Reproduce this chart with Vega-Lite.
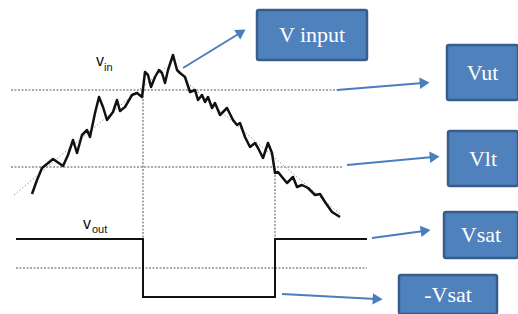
{
  "$schema": "https://vega.github.io/schema/vega-lite/v6.json",
  "width": 518, "height": 314,
  "autosize": {"type": "fit", "contains": "padding"},
  "padding": 0,
  "background": "white",
  "config": {"view": {"stroke": null}},
  "datasets": {
    "dotted": [
      {"x": 11, "y": 90, "x2": 340, "y2": 90},
      {"x": 11, "y": 167, "x2": 342, "y2": 167},
      {"x": 16, "y": 268, "x2": 367, "y2": 268},
      {"x": 143, "y": 92, "x2": 143, "y2": 239},
      {"x": 275, "y": 168, "x2": 275, "y2": 239}
    ],
    "trend": [
      {"x": 14, "y": 195, "x2": 165, "y2": 68},
      {"x": 190, "y": 85, "x2": 340, "y2": 214}
    ],
    "vin": [
      {"i": 1, "x": 32, "y": 194}, {"i": 2, "x": 37, "y": 180}, {"i": 3, "x": 42, "y": 168},
      {"i": 4, "x": 53, "y": 159}, {"i": 5, "x": 63, "y": 166}, {"i": 6, "x": 68, "y": 155},
      {"i": 7, "x": 73, "y": 140}, {"i": 8, "x": 77, "y": 153}, {"i": 9, "x": 82, "y": 135},
      {"i": 10, "x": 87, "y": 130}, {"i": 11, "x": 90, "y": 137}, {"i": 12, "x": 95, "y": 113},
      {"i": 13, "x": 99, "y": 97}, {"i": 14, "x": 103, "y": 107}, {"i": 15, "x": 107, "y": 120},
      {"i": 16, "x": 113, "y": 112}, {"i": 17, "x": 117, "y": 100}, {"i": 18, "x": 120, "y": 111},
      {"i": 19, "x": 125, "y": 107}, {"i": 20, "x": 132, "y": 95}, {"i": 21, "x": 137, "y": 93},
      {"i": 22, "x": 142, "y": 97}, {"i": 23, "x": 145, "y": 72}, {"i": 24, "x": 148, "y": 75},
      {"i": 25, "x": 151, "y": 87}, {"i": 26, "x": 155, "y": 77}, {"i": 27, "x": 159, "y": 70},
      {"i": 28, "x": 162, "y": 73}, {"i": 29, "x": 165, "y": 83}, {"i": 30, "x": 168, "y": 70},
      {"i": 31, "x": 173, "y": 55}, {"i": 32, "x": 177, "y": 70}, {"i": 33, "x": 180, "y": 73},
      {"i": 34, "x": 185, "y": 77}, {"i": 35, "x": 190, "y": 92}, {"i": 36, "x": 195, "y": 90},
      {"i": 37, "x": 198, "y": 100}, {"i": 38, "x": 202, "y": 95}, {"i": 39, "x": 205, "y": 102},
      {"i": 40, "x": 208, "y": 97}, {"i": 41, "x": 212, "y": 108}, {"i": 42, "x": 215, "y": 103},
      {"i": 43, "x": 220, "y": 115}, {"i": 44, "x": 227, "y": 108}, {"i": 45, "x": 233, "y": 120},
      {"i": 46, "x": 237, "y": 125}, {"i": 47, "x": 240, "y": 123}, {"i": 48, "x": 245, "y": 137},
      {"i": 49, "x": 250, "y": 147}, {"i": 50, "x": 255, "y": 143}, {"i": 51, "x": 258, "y": 148},
      {"i": 52, "x": 263, "y": 158}, {"i": 53, "x": 268, "y": 143}, {"i": 54, "x": 272, "y": 153},
      {"i": 55, "x": 275, "y": 173}, {"i": 56, "x": 278, "y": 172}, {"i": 57, "x": 282, "y": 177},
      {"i": 58, "x": 287, "y": 183}, {"i": 59, "x": 293, "y": 177}, {"i": 60, "x": 297, "y": 187},
      {"i": 61, "x": 302, "y": 185}, {"i": 62, "x": 308, "y": 188}, {"i": 63, "x": 315, "y": 195},
      {"i": 64, "x": 320, "y": 194}, {"i": 65, "x": 325, "y": 202}, {"i": 66, "x": 332, "y": 212},
      {"i": 67, "x": 340, "y": 217}
    ],
    "vout": [
      {"i": 1, "x": 16, "y": 239}, {"i": 2, "x": 143, "y": 239}, {"i": 3, "x": 143, "y": 297},
      {"i": 4, "x": 275, "y": 297}, {"i": 5, "x": 275, "y": 239}, {"i": 6, "x": 367, "y": 239}
    ],
    "arrows": [
      {"x": 183, "y": 68, "x2": 240, "y2": 33, "dir": 58},
      {"x": 337, "y": 90, "x2": 423, "y2": 83, "dir": 85},
      {"x": 347, "y": 165, "x2": 433, "y2": 157, "dir": 85},
      {"x": 372, "y": 238, "x2": 424, "y2": 231, "dir": 82},
      {"x": 282, "y": 294, "x2": 376, "y2": 299, "dir": 93}
    ],
    "boxes": [
      {"x": 257, "y": 10, "x2": 367, "y2": 60, "label": "V input"},
      {"x": 447, "y": 45, "x2": 518, "y2": 100, "label": "Vut"},
      {"x": 448, "y": 131, "x2": 518, "y2": 186, "label": "Vlt"},
      {"x": 444, "y": 212, "x2": 518, "y2": 258, "label": "Vsat"},
      {"x": 399, "y": 275, "x2": 497, "y2": 314, "label": "-Vsat"}
    ],
    "main": [
      {"x": 96, "y": 66, "t": "v"}, {"x": 83, "y": 229, "t": "v"}
    ],
    "subs": [
      {"x": 104, "y": 71, "t": "in"}, {"x": 92, "y": 233, "t": "out"}
    ]
  },
  "layer": [
    {
      "data": {"name": "dotted"},
      "mark": {"type": "rule", "color": "#555555", "strokeWidth": 1, "strokeDash": [2, 1.5]},
      "encoding": {
        "x": {"field": "x", "type": "quantitative", "scale": {"domain": [0, 518], "nice": false, "zero": false}, "axis": null},
        "y": {"field": "y", "type": "quantitative", "scale": {"domain": [0, 314], "reverse": true, "nice": false, "zero": false}, "axis": null},
        "x2": {"field": "x2"}, "y2": {"field": "y2"}
      }
    },
    {
      "data": {"name": "trend"},
      "mark": {"type": "rule", "color": "#999999", "strokeWidth": 1, "strokeDash": [1.5, 2]},
      "encoding": {
        "x": {"field": "x", "type": "quantitative"},
        "y": {"field": "y", "type": "quantitative"},
        "x2": {"field": "x2"}, "y2": {"field": "y2"}
      }
    },
    {
      "data": {"name": "vin"},
      "mark": {"type": "line", "color": "#111111", "strokeWidth": 2.5, "strokeJoin": "round"},
      "encoding": {
        "x": {"field": "x", "type": "quantitative"},
        "y": {"field": "y", "type": "quantitative"},
        "order": {"field": "i"}
      }
    },
    {
      "data": {"name": "vout"},
      "mark": {"type": "line", "color": "#111111", "strokeWidth": 2},
      "encoding": {
        "x": {"field": "x", "type": "quantitative"},
        "y": {"field": "y", "type": "quantitative"},
        "order": {"field": "i"}
      }
    },
    {
      "data": {"name": "arrows"},
      "mark": {"type": "rule", "color": "#4A7EBB", "strokeWidth": 2},
      "encoding": {
        "x": {"field": "x", "type": "quantitative"},
        "y": {"field": "y", "type": "quantitative"},
        "x2": {"field": "x2"}, "y2": {"field": "y2"}
      }
    },
    {
      "data": {"name": "arrows"},
      "mark": {"type": "point", "shape": "triangle", "filled": true, "color": "#4A7EBB", "opacity": 1, "size": 130},
      "encoding": {
        "x": {"field": "x2", "type": "quantitative"},
        "y": {"field": "y2", "type": "quantitative"},
        "angle": {"field": "dir", "type": "quantitative", "scale": {"domain": [0, 360], "range": [0, 360]}, "legend": null}
      }
    },
    {
      "data": {"name": "boxes"},
      "mark": {"type": "rect", "color": "#4F81BD", "stroke": "#385D8A", "strokeWidth": 2.5, "cornerRadius": 2, "opacity": 1, "clip": true},
      "encoding": {
        "x": {"field": "x", "type": "quantitative"},
        "y": {"field": "y", "type": "quantitative"},
        "x2": {"field": "x2"}, "y2": {"field": "y2"}
      }
    },
    {
      "data": {"name": "boxes"},
      "transform": [
        {"calculate": "(datum.x + datum.x2) / 2", "as": "cx"},
        {"calculate": "(datum.y + datum.y2) / 2", "as": "cy"}
      ],
      "mark": {"type": "text", "color": "white", "font": "Liberation Serif", "fontSize": 22, "align": "center", "baseline": "middle"},
      "encoding": {
        "x": {"field": "cx", "type": "quantitative"},
        "y": {"field": "cy", "type": "quantitative"},
        "text": {"field": "label"}
      }
    },
    {
      "data": {"name": "main"},
      "mark": {"type": "text", "color": "#111111", "font": "Liberation Sans", "fontSize": 16, "align": "left", "baseline": "alphabetic"},
      "encoding": {
        "x": {"field": "x", "type": "quantitative"},
        "y": {"field": "y", "type": "quantitative"},
        "text": {"field": "t"}
      }
    },
    {
      "data": {"name": "subs"},
      "mark": {"type": "text", "color": "#111111", "font": "Liberation Sans", "fontSize": 11, "align": "left", "baseline": "alphabetic"},
      "encoding": {
        "x": {"field": "x", "type": "quantitative"},
        "y": {"field": "y", "type": "quantitative"},
        "text": {"field": "t"}
      }
    }
  ]
}
